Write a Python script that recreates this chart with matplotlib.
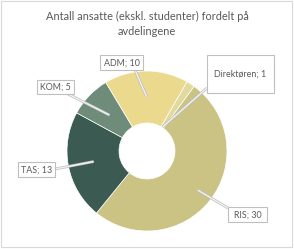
import numpy as np
import matplotlib
matplotlib.use("Agg")
import matplotlib.pyplot as plt
from matplotlib.patches import Rectangle
import matplotlib.patheffects as pe

# ---- data ----
categories = ["Direktøren", "RIS", "TAS", "KOM", "ADM"]
values = [1, 30, 13, 5, 10]
colors = ["#e2d99c", "#cbc384", "#3a5a52", "#6f8b79", "#ebda8d"]
title = "Antall ansatte (ekskl. studenter) fordelt på\navdelingene"

W, H = 294, 249
fig = plt.figure(figsize=(W / 100, H / 100), dpi=100)
fig.patch.set_facecolor("white")

FONT = "Lato"

# pie geometry (pixels)
cx, cy, R = 147, 151, 80
first_angle = 30  # degrees clockwise from 12 o'clock
hole = 0.35

ax = fig.add_axes([(cx - R) / W, (H - cy - R) / H, 2 * R / W, 2 * R / H])
wedges, _ = ax.pie(values, colors=colors, startangle=90 - first_angle,
                   counterclock=False, radius=1.0,
                   wedgeprops=dict(width=1 - hole, edgecolor="white", linewidth=0.5))
ax.set_xlim(-1, 1)
ax.set_ylim(-1, 1)
ax.set_aspect("auto")
ax.axis("off")

# overlay axes in pixel coordinates
ov = fig.add_axes([0, 0, 1, 1], zorder=5)
ov.set_xlim(0, W)
ov.set_ylim(H, 0)
ov.axis("off")
ov.patch.set_alpha(0)

# figure frame
ov.add_patch(Rectangle((1, 1), W - 3, H - 3, fill=False, edgecolor="#d9d9d9", linewidth=0.8))

ov.text(147, 24, title, ha="center", va="center", fontsize=7.9, color="#595959",
        family=FONT, linespacing=1.4)

# label layout: box (x0, y0, x1, y1), box attach point, anchor radius fraction
layout = {
    "ADM": ((100, 55, 143, 70), (135, 70), 0.68),
    "Direktøren": ((207, 55, 274, 93), (207, 88), 0.36),
    "KOM": ((37, 80, 74, 94), (68, 94), 0.65),
    "TAS": ((18, 162, 55, 177), (55, 169), 0.68),
    "RIS": ((228, 207, 267, 222), (228, 208), 0.8),
}

total = sum(values)
cum = 0
for cat, v in zip(categories, values):
    mid = first_angle + (cum + v / 2) / total * 360
    cum += v
    (x0, y0, x1, y1), (bx, by), rf = layout[cat]
    th = np.deg2rad(mid)
    axp = cx + rf * R * np.sin(th)
    ayp = cy - rf * R * np.cos(th)
    ln, = ov.plot([bx, axp], [by, ayp], color="#f2f2f2", linewidth=1.0,
                  solid_capstyle="butt", zorder=6)
    ln.set_path_effects([pe.Stroke(linewidth=2.0, foreground="#bdbdbd"), pe.Normal()])
    ov.add_patch(Rectangle((x0, y0), x1 - x0, y1 - y0, facecolor="white",
                           edgecolor="#bfbfbf", linewidth=0.8, zorder=7))
    ov.text((x0 + x1) / 2, (y0 + y1) / 2 + 0.5, f"{cat}; {v}", ha="center", va="center",
            fontsize=6.4, color="#595959", family=FONT, zorder=8)

fig.savefig("out.png", dpi=100)
